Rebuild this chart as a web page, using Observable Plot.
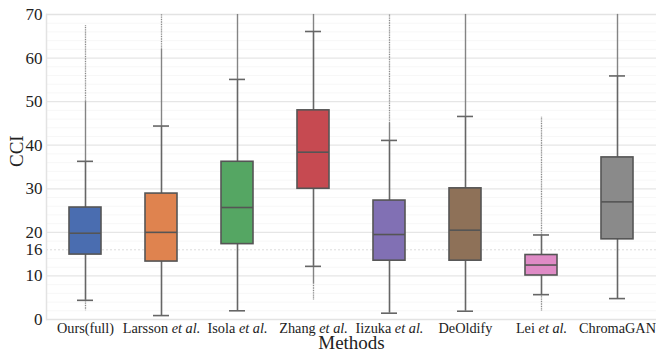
<!DOCTYPE html>
<html>
<head>
<meta charset="utf-8">
<script src="https://cdn.jsdelivr.net/npm/d3@7"></script>
<script src="https://cdn.jsdelivr.net/npm/@observablehq/plot@0.6"></script>
<style>
  html, body { margin: 0; padding: 0; background: #fff; }
  #chart svg { display: block; }
</style>
</head>
<body>
<div id="chart"></div>
<script>
const methods = ["Ours(full)", "Larsson et al.", "Isola et al.", "Zhang et al.", "Iizuka et al.", "DeOldify", "Lei et al.", "ChromaGAN"];
const colors  = ["#4a6db0", "#df834f", "#55a663", "#c64a51", "#8170b4", "#8e7158", "#df8bc6", "#8a8a8a"];
const q1        = [14.9, 13.3, 17.3, 30.0, 13.5, 13.5, 10.1, 18.4];
const medians   = [19.8, 20.0, 25.7, 38.4, 19.5, 20.5, 12.5, 27.0];
const q3        = [25.7, 28.9, 36.2, 48.0, 27.3, 30.1, 14.8, 37.2];
const whiskerLo = [4.4, 0.9, 2.0, 12.2, 1.45, 1.9, 5.7, 4.8];
const whiskerHi = [36.3, 44.4, 55.1, 66.1, 41.1, 46.6, 19.4, 55.9];
const outHiDense = [50.0, 62.0, 70.0, 70.0, 45.0, 70.0, 19.4, 70.0];
const outHiMax   = [67.5, 70.0, 70.0, 70.0, 70.0, 70.0, 46.4, 70.0];
const outLoDense = [4.4, 0.9, 2.0, 8.2, 1.45, 1.9, 5.7, 4.8];
const outLoMin   = [2.0, 0.9, 2.0, 4.4, 1.45, 1.9, 1.9, 4.8];
const yTicks = [0, 10, 16, 20, 30, 40, 50, 60, 70];
const gridSolid = [10, 20, 30, 40, 50, 60];
const gridDashed = [16];
const gridMinor = [2, 4, 6, 8, 12, 14, 18, 22, 24, 26, 28, 32, 34, 36, 38, 42, 44, 46, 48, 52, 54, 56, 58, 62, 64, 66, 68];

const serif = "'Liberation Serif', 'Times New Roman', serif";

const data = methods.map((m, i) => ({
  method: m, color: colors[i], q1: q1[i], median: medians[i], q3: q3[i],
  lo: whiskerLo[i], hi: whiskerHi[i],
  hiDense: outHiDense[i], hiMax: outHiMax[i], loDense: outLoDense[i], loMin: outLoMin[i]
}));

const chart = Plot.plot({
  width: 656,
  height: 352,
  marginLeft: 46,
  marginRight: 0,
  marginTop: 14,
  marginBottom: 33,
  style: { fontFamily: serif, fontSize: "15px", background: "#fff", color: "#222" },
  x: { domain: methods, padding: 0, label: null, axis: null },
  y: { domain: [0, 70], label: null, axis: null },
  marks: [
    Plot.ruleY(gridMinor, { stroke: "#f7f7f7", strokeWidth: 1 }),
    Plot.ruleY(gridSolid, { stroke: "#e6e6e6", strokeWidth: 1.2 }),
    Plot.ruleY(gridDashed, { stroke: "#dcdcdc", strokeWidth: 1, strokeDasharray: "2,2" }),
    Plot.ruleY([0, 70], { stroke: "#e3e3e3", strokeWidth: 1.5 }),
    Plot.frame({ anchor: "left", stroke: "#e3e3e3", strokeWidth: 1.5 }),
    // outliers (dense part)
    Plot.ruleX(data, { x: "method", y1: "hi", y2: "hiDense", stroke: "#777", strokeWidth: 1.4, strokeOpacity: 0.9 }),
    Plot.ruleX(data, { x: "method", y1: "lo", y2: "loDense", stroke: "#777", strokeWidth: 1.4, strokeOpacity: 0.9 }),
    // outliers (sparse part)
    Plot.ruleX(data, { x: "method", y1: "hiDense", y2: "hiMax", stroke: "#8a8a8a", strokeWidth: 1.3, strokeDasharray: "1,0.7" }),
    Plot.ruleX(data, { x: "method", y1: "loDense", y2: "loMin", stroke: "#8a8a8a", strokeWidth: 1.3, strokeDasharray: "1,0.7" }),
    // whiskers
    Plot.ruleX(data, { x: "method", y1: "lo", y2: "q1", stroke: "#666", strokeWidth: 1.6 }),
    Plot.ruleX(data, { x: "method", y1: "q3", y2: "hi", stroke: "#666", strokeWidth: 1.6 }),
    Plot.tickY(data, { x: "method", y: "lo", stroke: "#666", strokeWidth: 1.6, insetLeft: 30, insetRight: 30 }),
    Plot.tickY(data, { x: "method", y: "hi", stroke: "#666", strokeWidth: 1.6, insetLeft: 30, insetRight: 30 }),
    // boxes
    Plot.barY(data, { x: "method", y1: "q1", y2: "q3", fill: "color", stroke: "#555", strokeWidth: 1.6, insetLeft: 22, insetRight: 22 }),
    Plot.tickY(data, { x: "method", y: "median", stroke: "#555", strokeWidth: 1.6, insetLeft: 22, insetRight: 22 }),
    // tick labels
    Plot.text(yTicks, { y: d => d, frameAnchor: "left", dx: -4, textAnchor: "end", fontSize: 17, fill: "#222" }),
    Plot.text(methods, { x: d => d, frameAnchor: "bottom", dy: 3, lineAnchor: "top", fontSize: 14.3, fill: "#222" }),
    // axis titles
    Plot.text(["CCI"], { frameAnchor: "left", dx: -30, rotate: -90, fontSize: 19, fill: "#222" }),
    Plot.text(["Methods"], { frameAnchor: "bottom", dy: 29, lineAnchor: "bottom", fontSize: 19, fill: "#222" })
  ]
});

const svg = d3.select(chart);
svg.selectAll("text").style("font-family", serif);
// italicize "et al." in method labels
svg.selectAll("text").each(function () {
  const t = d3.select(this);
  const s = t.text();
  const idx = s.indexOf(" et al.");
  if (idx >= 0 && this.children.length === 0) {
    t.text(null);
    t.append("tspan").text(s.slice(0, idx) + " ");
    t.append("tspan").style("font-style", "italic").text("et al.");
  }
});

document.getElementById("chart").appendChild(chart);
</script>
</body>
</html>
